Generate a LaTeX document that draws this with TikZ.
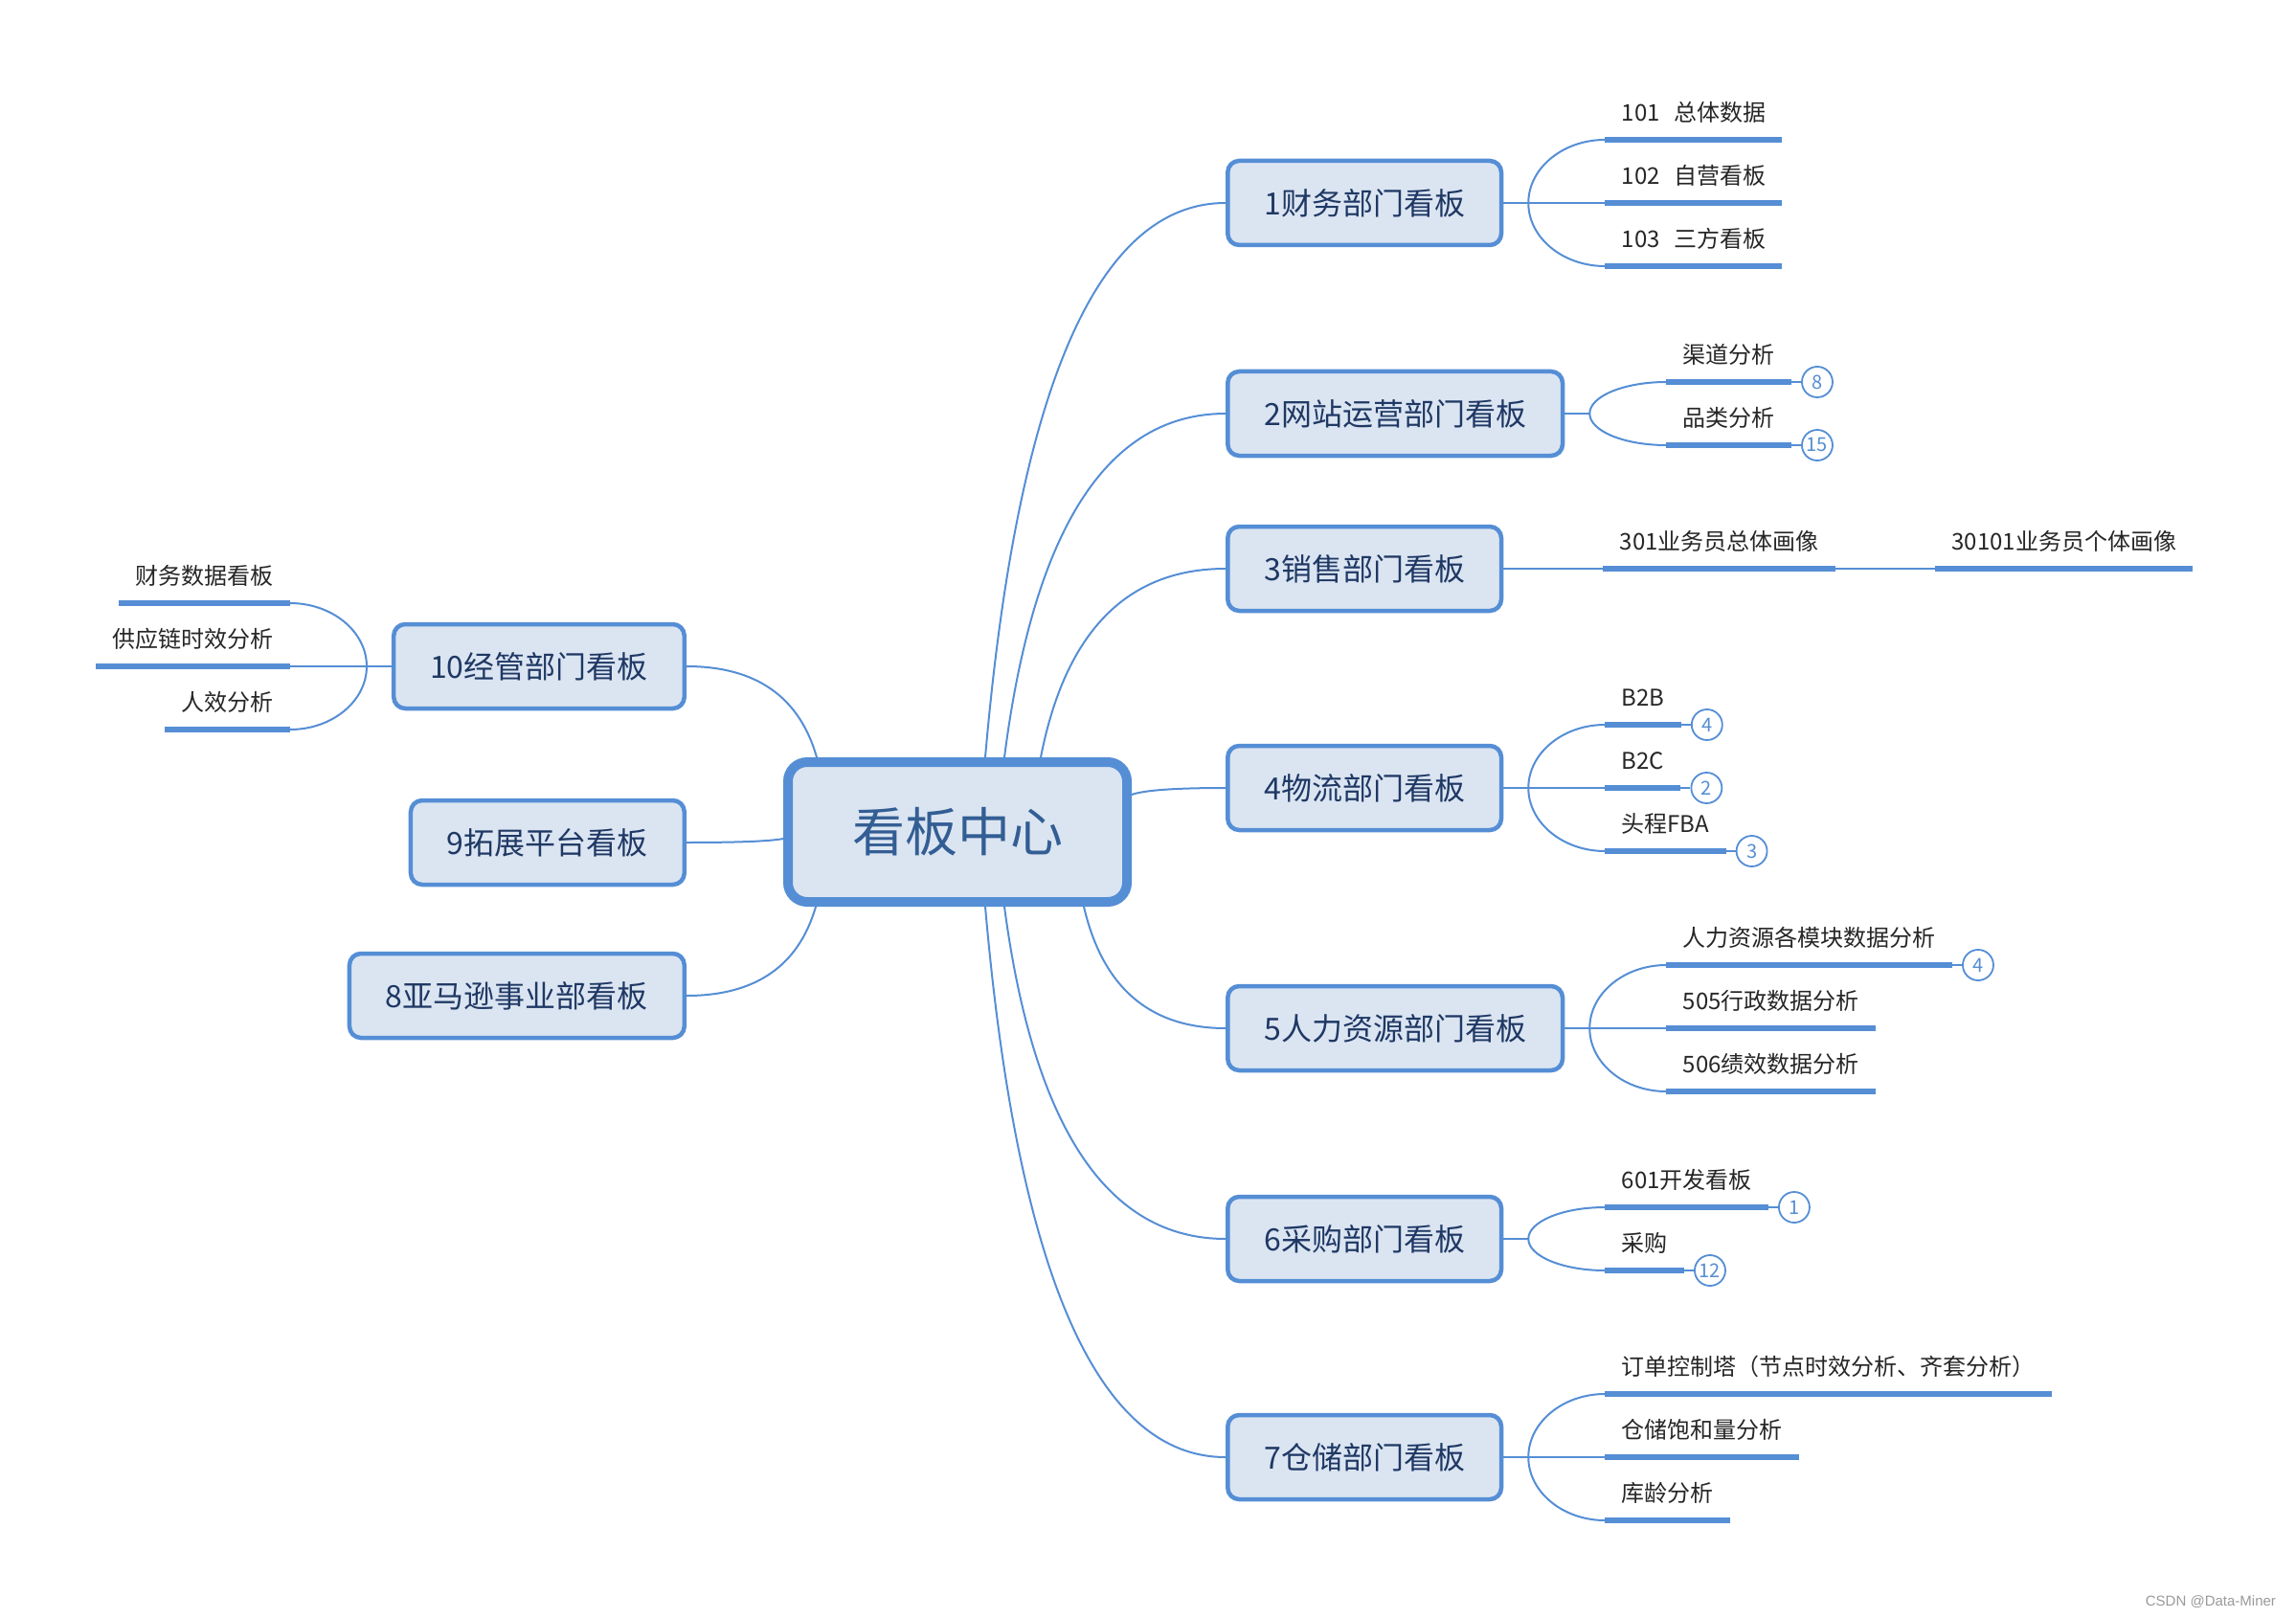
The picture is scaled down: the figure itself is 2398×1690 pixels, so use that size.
\documentclass[tikz,border=0pt]{standalone}
\usepackage{fontspec}
\newfontfamily\cjk{Noto Sans CJK SC}
\newfontfamily\wmfont{Liberation Sans}
\usetikzlibrary{positioning,calc}

\definecolor{linkblue}{RGB}{85,142,213}
\definecolor{boxfill}{RGB}{219,229,242}
\definecolor{boxtext}{RGB}{31,56,100}
\definecolor{hubtext}{RGB}{51,94,148}
\definecolor{leaftext}{RGB}{38,38,38}

\tikzset{
    hub/.style={rectangle, rounded corners=10pt, draw=linkblue, line width=5pt,
        fill=boxfill, text=hubtext, font=\cjk\fontsize{27.5}{30}\selectfont,
        minimum width=177pt, minimum height=73pt},
    dept/.style={rectangle, rounded corners=6pt, draw=linkblue, line width=2.25pt,
        fill=boxfill, text=boxtext, font=\cjk\fontsize{16}{18}\selectfont,
        inner xsep=19pt, minimum height=44pt},
    leaf/.style={font=\cjk\fontsize{12}{14}\selectfont, text=leaftext,
        inner xsep=8.5pt, inner ysep=7.5pt, text height=9pt, text depth=2pt},
    uline/.style={draw=linkblue, line width=3.25pt},
    conn/.style={draw=linkblue, line width=1pt},
    badge/.style={circle, draw=linkblue, line width=0.9pt, fill=white, text=linkblue,
        minimum size=16pt, inner sep=0pt, font=\cjk\fontsize{10}{10}\selectfont},
    trunk/.style={to path={let \p1=(\tikztostart), \p2=(\tikztotarget) in
        .. controls ({\x1+0.133*(\x2-\x1)},{\y1+0.667*(\y2-\y1)})
        and ({\x2-0.533*(\x2-\x1)},\y2) .. (\tikztotarget)}},
    twig/.style={to path={let \p1=(\tikztostart), \p2=(\tikztotarget) in
        .. controls (\x1,{\y1+0.55*(\y2-\y1)})
        and ({\x2-0.55*(\x2-\x1)},\y2) .. (\tikztotarget)}}
}

\begin{document}
\begin{tikzpicture}[x=0.5pt, y=-0.5pt]
    \useasboundingbox (0,0) rectangle (2398,1690);

    % Centre
    \node[hub] (hub) at (1000,869) {看板中心};

    % Right departments
    \node[dept, anchor=west] (b1) at (1280,212) {1财务部门看板};
    \node[dept, anchor=west] (b2) at (1280,432) {2网站运营部门看板};
    \node[dept, anchor=west] (b3) at (1280,594) {3销售部门看板};
    \node[dept, anchor=west] (b4) at (1280,823) {4物流部门看板};
    \node[dept, anchor=west] (b5) at (1280,1074) {5人力资源部门看板};
    \node[dept, anchor=west] (b6) at (1280,1294) {6采购部门看板};
    \node[dept, anchor=west] (b7) at (1280,1522) {7仓储部门看板};

    % Left departments
    \node[dept, anchor=east] (b10) at (717,696) {10经管部门看板};
    \node[dept, anchor=east] (b9) at (717,880) {9拓展平台看板};
    \node[dept, anchor=east] (b8) at (717,1040) {8亚马逊事业部看板};

    % Centre to departments
    \draw[conn] ($(hub.north)+(29,0)$) to[trunk] (b1.west);
    \draw[conn] ($(hub.north)+(49,0)$) to[trunk] (b2.west);
    \draw[conn] ($(hub.north)+(87,0)$) to[trunk] (b3.west);
    \draw[conn] ($(hub.east)+(0,-39)$) to[trunk] (b4.west);
    \draw[conn] ($(hub.south)+(132,0)$) to[trunk] (b5.west);
    \draw[conn] ($(hub.south)+(49,0)$) to[trunk] (b6.west);
    \draw[conn] ($(hub.south)+(29,0)$) to[trunk] (b7.west);
    \draw[conn] ($(hub.north)+(-147,0)$) to[trunk] (b10.east);
    \draw[conn] ($(hub.west)+(0,7)$) to[trunk] (b9.east);
    \draw[conn] ($(hub.south)+(-148,0)$) to[trunk] (b8.east);

    % Junctions
    \foreach \b in {1,2,4,5,6,7}
        \coordinate (j\b) at ($(b\b.east)+(26,0)$);
    \coordinate (j10) at ($(b10.west)+(-26,0)$);

    % 1
    \node[leaf, anchor=south west] (l11) at ($(j1)+(80,-66)$) {101\hspace{.6em}总体数据};
    \node[leaf, anchor=south west] (l12) at ($(j1)+(80,0)$) {102\hspace{.6em}自营看板};
    \node[leaf, anchor=south west] (l13) at ($(j1)+(80,66)$) {103\hspace{.6em}三方看板};
    % 2
    \node[leaf, anchor=south west] (l21) at ($(j2)+(80,-33)$) {渠道分析};
    \node[leaf, anchor=south west] (l22) at ($(j2)+(80,33)$) {品类分析};
    \node[badge, right=5pt of l21.south east] (d21) {8};
    \node[badge, right=5pt of l22.south east] (d22) {15};
    % 3
    \node[leaf, anchor=south west] (l31) at ($(b3.east)+(104,0)$) {301业务员总体画像};
    \node[leaf, anchor=south west] (l32) at ($(l31.south east)+(104,0)$) {30101业务员个体画像};
    % 4
    \node[leaf, anchor=south west] (l41) at ($(j4)+(80,-66)$) {B2B};
    \node[leaf, anchor=south west] (l42) at ($(j4)+(80,0)$) {B2C};
    \node[leaf, anchor=south west] (l43) at ($(j4)+(80,66)$) {头程FBA};
    \node[badge, right=5pt of l41.south east] (d41) {4};
    \node[badge, right=5pt of l42.south east] (d42) {2};
    \node[badge, right=5pt of l43.south east] (d43) {3};
    % 5
    \node[leaf, anchor=south west] (l51) at ($(j5)+(80,-66)$) {人力资源各模块数据分析};
    \node[leaf, anchor=south west] (l52) at ($(j5)+(80,0)$) {505行政数据分析};
    \node[leaf, anchor=south west] (l53) at ($(j5)+(80,66)$) {506绩效数据分析};
    \node[badge, right=5pt of l51.south east] (d51) {4};
    % 6
    \node[leaf, anchor=south west] (l61) at ($(j6)+(80,-33)$) {601开发看板};
    \node[leaf, anchor=south west] (l62) at ($(j6)+(80,33)$) {采购};
    \node[badge, right=5pt of l61.south east] (d61) {1};
    \node[badge, right=5pt of l62.south east] (d62) {12};
    % 7
    \node[leaf, anchor=south west] (l71) at ($(j7)+(80,-66)$) {订单控制塔（节点时效分析、齐套分析）};
    \node[leaf, anchor=south west] (l72) at ($(j7)+(80,0)$) {仓储饱和量分析};
    \node[leaf, anchor=south west] (l73) at ($(j7)+(80,66)$) {库龄分析};
    % 10
    \node[leaf, anchor=south east] (l101) at ($(j10)+(-80,-66)$) {财务数据看板};
    \node[leaf, anchor=south east] (l102) at ($(j10)+(-80,0)$) {供应链时效分析};
    \node[leaf, anchor=south east] (l103) at ($(j10)+(-80,66)$) {人效分析};

    % Underlines
    \foreach \lf in {l11,l12,l13,l21,l22,l31,l32,l41,l42,l43,l51,l52,l53,
                     l61,l62,l71,l72,l73,l101,l102,l103}
        \draw[uline] (\lf.south west) -- (\lf.south east);

    % Departments to leaves
    \foreach \b in {1,2,4,5,6,7}
        \draw[conn] (b\b.east) -- (j\b);
    \foreach \b/\lf in {1/l11,1/l12,1/l13,2/l21,2/l22,4/l41,4/l42,4/l43,
                        5/l51,5/l52,5/l53,6/l61,6/l62,7/l71,7/l72,7/l73}
        \draw[conn] (j\b) to[twig] (\lf.south west);
    \draw[conn] (b10.west) -- (j10);
    \foreach \lf in {l101,l102,l103}
        \draw[conn] (j10) to[twig] (\lf.south east);
    \draw[conn] (b3.east) -- (l31.south west);
    \draw[conn] (l31.south east) -- (l32.south west);

    % Badges
    \foreach \lf/\d in {l21/d21,l22/d22,l41/d41,l42/d42,l43/d43,l51/d51,l61/d61,l62/d62}
        \draw[conn] (\lf.south east) -- (\d);

    \node[font=\wmfont\fontsize{7.5}{8}\selectfont, text=black!40, anchor=east] (wm)
        at (2384,1673) {CSDN @Data-Miner};
\end{tikzpicture}
\end{document}
